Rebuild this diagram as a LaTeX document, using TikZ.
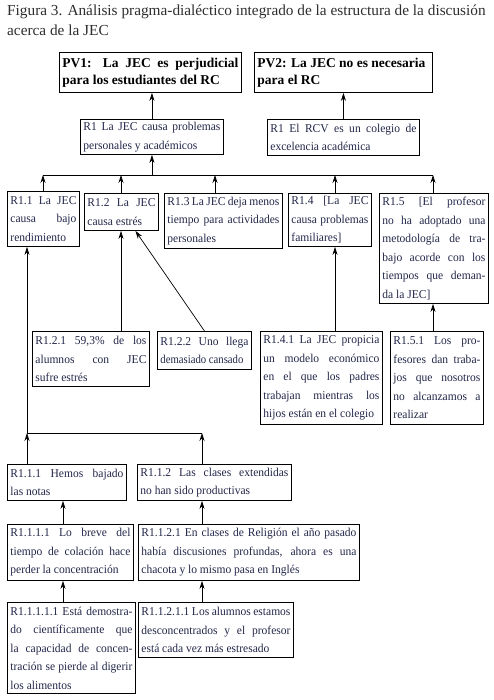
\documentclass[tikz,border=0pt]{standalone}
\usepackage{fontspec}
\setmainfont{Liberation Serif}
\newfontfamily\boxfont{Liberation Serif}[FakeStretch=0.96]
\usetikzlibrary{arrows.meta}
\definecolor{boxtext}{RGB}{34,38,72}
\definecolor{titletext}{RGB}{45,45,45}
\newcommand\narrowline[1]{\scalebox{0.93}[1]{#1}}

\begin{document}
\begin{tikzpicture}[x=1pt, y=-1pt,
        >={Stealth[length=8pt,width=5pt]},
        box/.style={draw, line width=0.9pt, anchor=north west, inner xsep=3pt, inner ysep=2pt,
            align=justify, font=\boxfont\fontsize{12}{18.5}\selectfont, text=boxtext},
        pvbox/.style={box, font=\bfseries\fontsize{13.5}{17}\selectfont, text=black},
        link/.style={line width=0.7pt}]
        \useasboundingbox (0,0) rectangle (494,700);

        % title
        \node[anchor=north west, inner sep=0pt, align=left, font=\fontsize{15.3}{20}\selectfont, text=titletext] (title) at (7,5)
            {Figura 3. Análisis pragma-dialéctico integrado de la estructura de la discusión\\acerca de la JEC};

        % standpoints
        \node[pvbox, text width=176pt, minimum height=40pt] (pv1) at (59,52) {PV1: La JEC es perjudicial\linebreak para los estudiantes del RC};
        \node[pvbox, text width=172pt, minimum height=40pt] (pv2) at (254,52) {PV2: La JEC no es necesaria\\para el RC};

        % main reasons
        \node[box, text width=137pt, minimum height=35pt] (r1) at (80,119) {R1 La JEC causa problemas\linebreak personales y académicos};
        \node[box, text width=146pt, minimum height=36pt] (r1b) at (267,119) {R1 El RCV es un colegio de\linebreak excelencia académica};

        % reasons for R1
        \node[box, text width=66pt, minimum height=55pt] (r11) at (7,191) {R1.1 La JEC\linebreak causa bajo\linebreak rendimiento};
        \node[box, text width=68pt, minimum height=37pt] (r12) at (84,193) {R1.2 La JEC\linebreak causa estrés};
        \node[box, text width=112pt, minimum height=55pt] (r13) at (164,193) {R1.3 La JEC deja menos\linebreak tiempo para actividades\linebreak personales};
        \node[box, text width=77pt, minimum height=53pt] (r14) at (288,193) {R1.4 [La JEC\linebreak causa problemas\linebreak familiares]};
        \node[box, text width=103pt, minimum height=110pt] (r15) at (379,193) {R1.5 [El profesor\linebreak no ha adoptado una\linebreak metodología de tra-\linebreak bajo acorde con los\linebreak tiempos que deman-\linebreak da la JEC]};

        % subordinate reasons
        \node[box, text width=111pt, minimum height=55pt] (r121) at (32,331) {R1.2.1 59,3\% de los\linebreak alumnos con JEC\linebreak sufre estrés};
        \node[box, text width=88pt, minimum height=38pt] (r122) at (157,331) {R1.2.2 Uno llega\linebreak \narrowline{demasiado cansado}};
        \node[box, text width=116pt, minimum height=93pt] (r141) at (260,331) {R1.4.1 La JEC propicia\linebreak un modelo económico\linebreak en el que los padres\linebreak trabajan mientras los\linebreak hijos están en el colegio};
        \node[box, text width=87pt, minimum height=93pt] (r151) at (390,331) {R1.5.1 Los pro-\linebreak fesores dan traba-\linebreak jos que nosotros\linebreak no alcanzamos a\linebreak realizar};

        % chain under R1.1
        \node[box, text width=113pt, minimum height=36pt] (r111) at (7,464) {R1.1.1 Hemos bajado\linebreak las notas};
        \node[box, text width=148pt, minimum height=36pt] (r112) at (137,464) {R1.1.2 Las clases extendidas\linebreak no han sido productivas};
        \node[box, text width=120pt, minimum height=56pt] (r1111) at (7,524) {R1.1.1.1 Lo breve del\linebreak tiempo de colación hace\linebreak perder la concentración};
        \node[box, text width=215pt, minimum height=56pt] (r1121) at (138,524) {R1.1.2.1 En clases de Religión el año pasado\linebreak había discusiones profundas, ahora es una\linebreak chacota y lo mismo pasa en Inglés};
        \node[box, text width=122pt, minimum height=91pt] (r11111) at (7,602) {R1.1.1.1.1 Está demostra-\linebreak do científicamente que\linebreak la capacidad de concen-\linebreak tración se pierde al digerir\linebreak los alimentos};
        \node[box, text width=149pt, minimum height=55pt] (r11211) at (138,602) {R1.1.2.1.1 Los alumnos estamos\linebreak desconcentrados y el profesor\linebreak está cada vez más estresado};

        % columns and buses
        \coordinate (bus) at (43,175);
        \coordinate (x11) at (43,0);
        \coordinate (x12) at (121,0);
        \coordinate (x13) at (215,0);
        \coordinate (x14) at (335,0);
        \coordinate (x15) at (433,0);
        \coordinate (bus2) at (27,433);
        \coordinate (xa) at (63,0);
        \coordinate (xb) at (202,0);

        % arrows to standpoints
        \draw[link,->] (r1.north) -- (r1.north |- pv1.south);
        \draw[link,->] (r1b.north) -- (r1b.north |- pv2.south);

        % arrows to R1
        \draw[link] (bus -| x11) -- (bus -| x15);
        \draw[link,->] (bus -| r1.south) -- (r1.south);
        \foreach \n in {11,12,13,14,15}
            \draw[link,->] (r\n.north -| x\n) -- (bus -| x\n);

        % arrows to R1.2, R1.4, R1.5
        \draw[link,->] (r121.north -| x12) -- (r12.south -| x12);
        \draw[link,->] (r122.north) -- ([xshift=14pt]r12.south);
        \draw[link,->] (r141.north -| x14) -- (r14.south -| x14);
        \draw[link,->] (r151.north -| x15) -- (r15.south -| x15);

        % arrows to R1.1
        \draw[link,->] (bus2) -- (bus2 |- r11.south);
        \draw[link] (bus2) -- (bus2 -| xb);
        \draw[link,->] (r111.north -| bus2) -- (bus2);
        \draw[link,->] (r112.north -| xb) -- (bus2 -| xb);
        \draw[link,->] (r1111.north -| xa) -- (r111.south -| xa);
        \draw[link,->] (r1121.north -| xb) -- (r112.south -| xb);
        \draw[link,->] (r11111.north -| xa) -- (r1111.south -| xa);
        \draw[link,->] (r11211.north -| xb) -- (r1121.south -| xb);
    \end{tikzpicture}
\end{document}
